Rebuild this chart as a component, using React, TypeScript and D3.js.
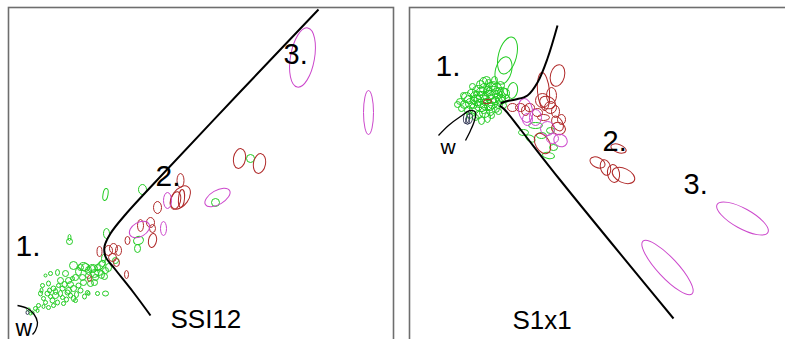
import { useEffect, useRef } from "react";
import * as d3 from "d3";

// ellipse = [cx, cy, rx, ry, angle] in panel units (y grows downward)
type Ell = number[];

// ---- left panel (SSI12) ----
const leftGreen: Ell[] = [
  [242, 151, 4, 4, 0], [207, 195, 4, 4, 0], [134, 182, 4, 5, 0], [97, 187, 2.5, 6, 10],
  [98, 226, 3, 5, 0], [61, 234, 3, 3, 0], [61, 230, 1.5, 3, 0], [130, 233, 5, 4, -20],
  [129, 241, 3, 4, 0], [107, 253, 3, 3, 0], [95, 251, 2, 4, 0], [97, 286, 3, 2.5, 0],
  [65, 291, 2, 3, 0], [80, 286, 1.5, 2, 0], [92, 258, 3, 6, 40],
  [65, 258, 4, 4, 0], [72, 260, 3, 3, 0], [77, 260, 4, 4, 0], [84, 261, 3, 3, 0],
  [89, 260, 3, 3, 0], [94, 256, 3, 3, 0], [97, 263, 3, 3, 0], [57, 266, 3, 3, 0],
  [49, 265, 2, 3, 0], [42, 266, 2, 2, 0], [37, 268, 1.5, 1.5, 0], [52, 273, 3, 3, 0],
  [60, 273, 3, 3, 0], [67, 270, 3, 3, 0], [74, 270, 3, 3, 0], [80, 268, 3, 3, 0],
  [87, 270, 3, 3, 0], [82, 276, 3, 3, 0], [70, 278, 2.5, 2.5, 0], [60, 283, 3, 3, 0],
  [54, 281, 2.5, 2.5, 0], [45, 281, 2.5, 2.5, 0], [40, 276, 2, 2.5, 0], [34, 278, 2, 2, 0],
  [32, 286, 2, 2.5, 0], [39, 286, 2.5, 2.5, 0], [47, 288, 3, 3, 0], [54, 290, 2, 2, 0],
  [44, 293, 2.5, 2.5, 0], [37, 295, 2, 2, 0], [49, 295, 2, 2.5, 0], [30, 298, 2, 2, 0],
  [27, 301, 2, 2, 0], [24, 305, 1.5, 1.5, 0], [59, 285, 2.5, 2.5, 0], [65, 281, 3, 3, 0],
  [79, 285, 2, 2, 0], [89, 286, 2, 2, 0], [67, 293, 2, 2, 0], [55, 296, 2, 2, 0],
  [75, 275, 3, 3, 0], [75, 259, 5, 4, 0], [84, 261, 5, 4, 0], [64, 271, 2, 2, 0],
  [50, 278, 2, 2, 0], [42, 289, 2, 2, 0], [35, 291, 2, 2, 0], [20, 302, 2, 1.5, 0],
  [70, 264, 3, 4, 0], [80, 263, 3, 4, 0], [90, 265, 4, 3, 0], [86, 275, 3, 3, 0],
  [62, 277, 3, 3, 0], [56, 277, 2.5, 3, 0], [47, 284, 2, 3, 0], [41, 283, 2, 2.5, 0],
  [33, 283, 1.5, 2.5, 0], [52, 286, 2, 3, 0], [58, 292, 2, 2.5, 0], [62, 288, 2, 2.5, 0],
  [72, 283, 2.5, 2.5, 0], [76, 289, 2, 2.5, 0], [45, 298, 2, 2, 0], [40, 300, 2, 2, 0],
  [35, 299, 1.5, 2, 0], [29, 303, 1.5, 2, 0], [22, 306, 1.5, 1.5, 0], [93, 267, 3, 4, 0],
  [100, 260, 3, 4, 0], [96, 269, 3, 3, 0], [68, 287, 2, 3, 0], [86, 266, 4, 4, 0],
];
const leftRed: Ell[] = [
  [231, 151, 6, 10, 10], [251, 156, 6, 10, 10], [172, 173, 3.5, 7, 0], [172, 190, 8, 13, 35],
  [173, 191, 3, 9, 5], [167, 193, 5, 9, 15], [149, 200, 4, 6, 0], [132, 218, 3, 6, 0],
  [142, 215, 4, 5, 0], [144, 233, 4, 7, 10], [119, 233, 2.5, 4, 0], [144, 221, 3, 4, 0],
  [91, 244, 2.5, 5, 0], [100, 243, 4, 5, 0], [105, 241, 4, 5, 0], [110, 243, 3, 5, 0],
  [104, 250, 4, 4, 0], [108, 255, 3, 4, 0], [118, 267, 2, 4, 0], [81, 271, 2, 3, 0],
];
const leftMagenta: Ell[] = [
  [294, 50, 12, 30, 10], [360, 105, 5, 22, 0], [209, 190, 14, 7, -30],
  [159, 193, 4, 8, 0], [131, 222, 11, 7, -30], [155, 221, 3, 7, 0],
];
const leftDark: Ell[] = [[19, 305, 1.5, 2, 0]];
const leftBoundary: [number, number][] = [
  [310, 2], [232, 84], [152, 169], [117, 207], [102, 226], [96, 239],
  [97, 249], [106, 261], [125, 285], [142, 308],
];
const leftW: [number, number][] = [
  [9, 298], [19, 301], [25, 306], [29, 315], [27, 323], [24, 327],
];
const leftLabels = [
  { text: "1.", x: 7, y: 248, size: 30 },
  { text: "2.", x: 147, y: 178, size: 30 },
  { text: "3.", x: 275, y: 56, size: 29 },
  { text: "SSI12", x: 162, y: 320, size: 26 },
  { text: "w", x: 7, y: 328, size: 23 },
];

// ---- right panel (S1x1) ----
const rightGreen: Ell[] = [
  [98, 48, 9, 19, 15], [94, 63, 8, 14, 15], [103, 83, 5, 8, 10], [74, 75, 4, 5, 0],
  [51, 94, 4, 3, 0], [57, 90, 5, 5, 0], [63, 86, 5, 4, 20], [69, 83, 6, 5, 0],
  [75, 81, 5, 5, 0], [81, 79, 5, 4, -20], [87, 81, 5, 5, 0], [93, 85, 5, 5, 0],
  [96, 91, 4, 4, 0], [61, 96, 5, 5, 0], [67, 93, 6, 5, 20], [73, 90, 6, 6, 0],
  [79, 88, 6, 5, -15], [85, 89, 6, 6, 0], [91, 92, 5, 5, 0], [65, 101, 5, 5, 0],
  [71, 99, 6, 5, 10], [77, 97, 6, 6, 0], [83, 96, 5, 5, 0], [89, 97, 4, 4, 0],
  [69, 107, 4, 4, 0], [75, 105, 5, 5, 0], [81, 103, 4, 5, 0], [59, 103, 4, 4, 0],
  [77, 73, 4, 4, 0], [71, 77, 4, 4, 0], [85, 73, 3, 4, 0], [54, 88, 3, 3, 0],
  [78, 110, 3, 5, 0], [91, 78, 4, 4, 0], [94, 98, 3, 3, 0], [63, 79, 3, 3, 0],
  [84, 83, 7, 4, 0], [71, 88, 7, 4, 15], [126, 118, 7, 3, 0], [139, 148, 6, 3, 10],
  [121, 131, 5, 3, 30], [141, 123, 4, 3, 0],
  [55, 97, 4, 4, 0], [60, 92, 5, 4, 0], [66, 89, 5, 5, 0], [72, 84, 5, 4, 0],
  [78, 84, 4, 5, 0], [88, 87, 5, 4, 0], [92, 89, 4, 5, 0], [70, 96, 5, 4, 0],
  [76, 93, 5, 5, 0], [82, 92, 5, 4, 0], [86, 93, 4, 4, 0], [74, 101, 4, 5, 0],
  [80, 99, 5, 4, 0], [86, 101, 4, 4, 0], [64, 97, 4, 4, 0], [48, 97, 3, 3, 0],
  [52, 101, 3, 3, 0], [66, 110, 3, 3, 0], [72, 113, 3, 4, 0], [82, 108, 3, 3, 0],
  [89, 104, 3, 3, 0], [60, 108, 3, 3, 0], [84, 78, 4, 4, 0], [79, 76, 3, 4, 0],
  [90, 84, 4, 4, 0], [96, 86, 4, 5, 0], [114, 125, 5, 3, 0], [132, 128, 5, 3, 0],
  [144, 140, 4, 3, 0],
];
const rightRed: Ell[] = [
  [78, 94, 4, 2, -10], [148, 68, 7, 11, 15], [134, 84, 6, 19, -5], [133, 93, 7, 7, 0],
  [138, 95, 8, 6, 20], [134, 110, 6, 3, 0], [148, 116, 5, 8, -30], [149, 121, 7, 6, 20],
  [103, 100, 5, 4, 0], [111, 100, 5, 4, 0], [116, 103, 4, 5, 0], [133, 136, 7, 11, -30],
  [188, 155, 8, 5, 25], [196, 160, 5, 8, -15], [204, 166, 6, 9, -10], [214, 168, 12, 7, 25],
  [209, 141, 8, 4, 20], [142, 88, 5, 8, 0], [141, 100, 6, 6, 0], [128, 105, 5, 4, 0],
  [146, 104, 4, 6, 0], [152, 112, 4, 5, 0], [120, 100, 5, 4, 0],
];
const rightMagenta: Ell[] = [
  [333, 211, 29, 10, 29], [258, 260, 36, 10, 47], [116, 103, 7, 12, -10],
  [138, 121, 7, 7, 0], [151, 133, 7, 6, 30], [126, 110, 6, 8, 0], [143, 131, 6, 5, 0],
  [118, 112, 5, 6, 0],
];
const rightDark: Ell[] = [[57, 110, 3, 6, 10], [60, 111, 3, 5, 10], [58, 113, 2, 4, 0]];
const rightUpper: [number, number][] = [
  [148, 18], [138, 51], [128, 75], [118, 88], [106, 92], [96, 94], [91, 96],
];
const rightLower: [number, number][] = [
  [90, 98], [95, 102], [111, 122], [151, 173], [264, 311],
];
const rightW: [number, number][] = [
  [29, 128], [39, 118], [51, 109], [61, 103], [66, 105], [65, 113], [61, 123], [56, 133],
];
const rightLabels = [
  { text: "1.", x: 26, y: 68, size: 30 },
  { text: "2.", x: 193, y: 143, size: 29 },
  { text: "3.", x: 274, y: 186, size: 29 },
  { text: "S1x1", x: 103, y: 321, size: 26 },
  { text: "w", x: 31, y: 146, size: 21 },
];

const colors = { green: "#22cc22", red: "#b02a2a", magenta: "#cc48cc", dark: "#3a3f5c" };

export default function App() {
  const ref = useRef<SVGSVGElement>(null);

  useEffect(() => {
    const svg = d3.select(ref.current);
    svg.selectAll("*").remove();

    const panels = [
      {
        x0: 8.5, w: 385, green: leftGreen, red: leftRed, magenta: leftMagenta, dark: leftDark,
        lines: [leftBoundary], wLine: leftW, labels: leftLabels,
      },
      {
        x0: 409.5, w: 385, green: rightGreen, red: rightRed, magenta: rightMagenta, dark: rightDark,
        lines: [rightUpper, rightLower], wLine: rightW, labels: rightLabels,
      },
    ];

    panels.forEach((p) => {
      const x = d3.scaleLinear().domain([0, p.w]).range([p.x0, p.x0 + p.w]);
      const y = d3.scaleLinear().domain([0, 332]).range([7.5, 339.5]);
      const g = svg.append("g");

      // frame (bottom runs off the picture)
      g.append("rect")
        .attr("x", x(0)).attr("y", y(0))
        .attr("width", x(p.w) - x(0)).attr("height", 345)
        .attr("fill", "white")
        .attr("stroke", "#6e6e6e")
        .attr("stroke-width", 1.6);

      const drawEllipses = (data: Ell[], color: string) => {
        g.append("g").selectAll("ellipse")
          .data(data)
          .enter().append("ellipse")
          .attr("cx", 0).attr("cy", 0)
          .attr("rx", (d) => x(d[2]) - x(0))
          .attr("ry", (d) => y(d[3]) - y(0))
          .attr("transform", (d) => `translate(${x(d[0])},${y(d[1])}) rotate(${d[4] || 0})`)
          .attr("fill", "none")
          .attr("stroke", color)
          .attr("stroke-width", 1);
      };
      drawEllipses(p.green, colors.green);
      drawEllipses(p.red, colors.red);
      drawEllipses(p.magenta, colors.magenta);
      drawEllipses(p.dark, colors.dark);

      const line = d3.line<[number, number]>()
        .x((d) => x(d[0]))
        .y((d) => y(d[1]))
        .curve(d3.curveCatmullRom.alpha(0.5));

      p.lines.forEach((pts) => {
        g.append("path")
          .datum(pts)
          .attr("fill", "none")
          .attr("stroke", "#000")
          .attr("stroke-width", 2)
          .attr("d", line);
      });
      g.append("path")
        .datum(p.wLine)
        .attr("fill", "none")
        .attr("stroke", "#000")
        .attr("stroke-width", 1.3)
        .attr("d", line);

      g.selectAll("text.lab")
        .data(p.labels)
        .enter().append("text")
        .attr("x", (d) => x(d.x))
        .attr("y", (d) => y(d.y))
        .attr("font-family", "'Liberation Sans', Arial, sans-serif")
        .attr("font-size", (d) => d.size)
        .attr("fill", "#000")
        .text((d) => d.text);
    });
  }, []);

  return (
    <svg
      ref={ref}
      width={785}
      height={339}
      style={{ position: "absolute", left: 0, top: 0, background: "white", overflow: "hidden" }}
    />
  );
}
